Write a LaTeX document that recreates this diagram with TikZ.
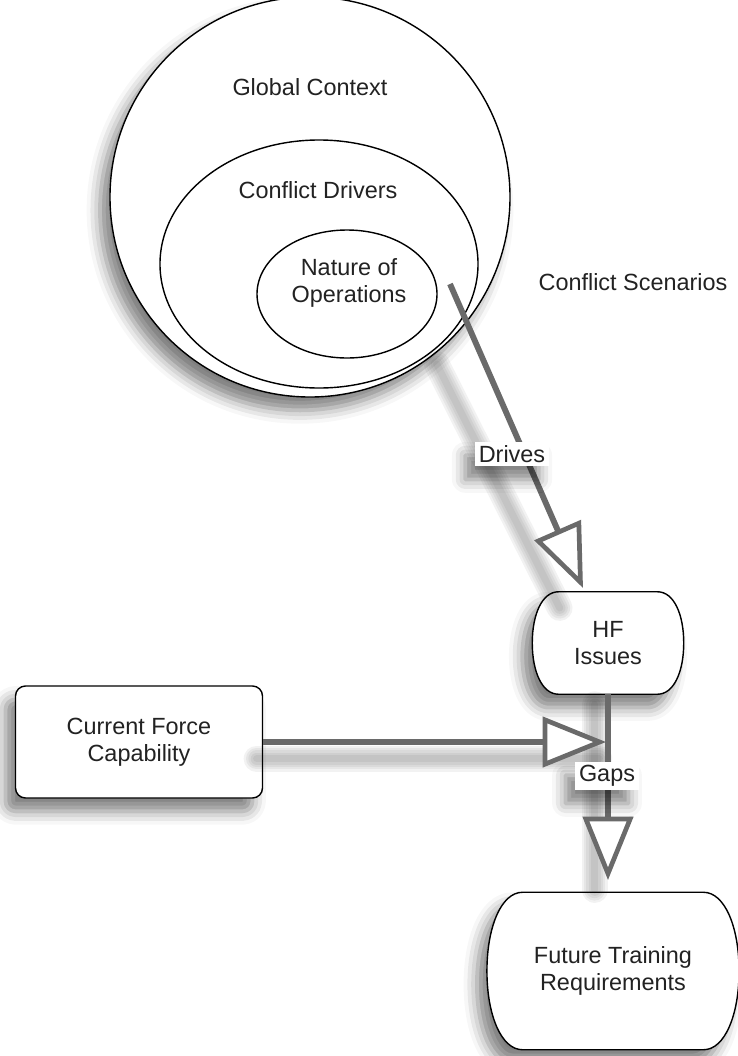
\documentclass[tikz,border=0pt]{standalone}
\usepackage{fontspec}
\setmainfont{Liberation Sans}
\usetikzlibrary{shapes.geometric,arrows.meta,shadows.blur}
\definecolor{arrgray}{HTML}{6A6A6A}
\definecolor{txtgray}{HTML}{222222}
% outline with bowed sides round a frame node: #1 node, #2 bulge, #3 corner, #4 quarter height
\newcommand{\barrelpath}[4]{([xshift=-#3]#1.north east) .. controls ([xshift=0.1cm]#1.north east) and ([xshift=#2, yshift=#4]#1.east) .. ([xshift=#2]#1.east)
  .. controls ([xshift=#2, yshift=-#4]#1.east) and ([xshift=0.1cm]#1.south east) .. ([xshift=-#3]#1.south east)
  -- ([xshift=#3]#1.south west) .. controls ([xshift=-0.1cm]#1.south west) and ([xshift=-#2, yshift=-#4]#1.west) .. ([xshift=-#2]#1.west)
  .. controls ([xshift=-#2, yshift=#4]#1.west) and ([xshift=-0.1cm]#1.north west) .. ([xshift=#3]#1.north west) -- cycle}
\begin{document}
\begin{tikzpicture}[x=0.03cm, y=-0.03cm,
  every node/.style={font=\fontsize{20}{23}\selectfont, text=txtgray, align=center},
  soft/.style={blur shadow={shadow xshift=-0.3cm, shadow yshift=-0.4cm, shadow blur radius=0.4cm, shadow opacity=50}},
  ring/.style={draw, line width=1.2pt, fill=white},
  flow/.style={draw=arrgray, line width=5pt, -{Triangle[length=1.9cm, width=1.5cm, fill=white, line width=4pt]}},
  trail/.style={black, opacity=0.05, line cap=round},
  tag/.style={fill=white, inner sep=3pt, soft}]
\useasboundingbox (0,0) rectangle (738,1056);
% nested scenario rings
\node[ring, circle, minimum size=12cm, soft] (ctx) at (310,197) {};
\node[ring, ellipse, minimum width=9.54cm, minimum height=7.44cm] (drv) at (319,264) {};
\node[ring, ellipse, minimum width=5.4cm, minimum height=3.84cm] (ops) at (347,294) {};
\node (gc) at (310,87) {Global Context};
\node (cd) at (318,190) {Conflict Drivers};
\node (no) at (349,283) {Nature of\\Operations};
\node (cs) at (633,282) {Conflict Scenarios};
% boxes
\node[minimum width=3.75cm, minimum height=3.06cm] (hfframe) at (608,643) {};
\node[minimum width=6.51cm, minimum height=4.71cm] (ftrframe) at (613,971) {};
\draw[ring, soft] \barrelpath{hfframe}{0.39cm}{0.4cm}{0.85cm};
\draw[ring, soft] \barrelpath{ftrframe}{0.52cm}{0.55cm}{1.3cm};
\node (hf) at (hfframe) {HF\\Issues};
\node (ftr) at (ftrframe) {Future Training\\Requirements};
\node[ring, rounded corners=0.3cm, soft, minimum width=7.41cm, minimum height=3.36cm] (cfc) at (139,742) {Current Force\\Capability};
\coordinate (src) at (450,284);
\coordinate (hftop) at (583,588);
\coordinate (merge) at (606,742);
\coordinate (ftrtop) at (608,880);
% soft trails under the connectors
\foreach \w in {6,10,14,18,22} {
  \draw[trail, line width=\w pt, transform canvas={shift={(-0.7cm,-0.6cm)}}] (src) ++(10,60) -- (hftop);
  \draw[trail, line width=\w pt, transform canvas={shift={(-0.2cm,-0.5cm)}}] (cfc.east) -- (merge);
  \draw[trail, line width=\w pt, transform canvas={shift={(-0.4cm,-0.3cm)}}] (hfframe.south) -- (ftrtop);
}
% connectors
\draw[flow] (src) -- (hftop);
\draw[flow] (cfc.east) -- (merge);
\draw[flow] (hfframe.south) -- (ftrtop);
\node[tag] (drives) at (512,454) {Drives};
\node[tag] (gaps) at (607,776) {Gaps};
\end{tikzpicture}
\end{document}
